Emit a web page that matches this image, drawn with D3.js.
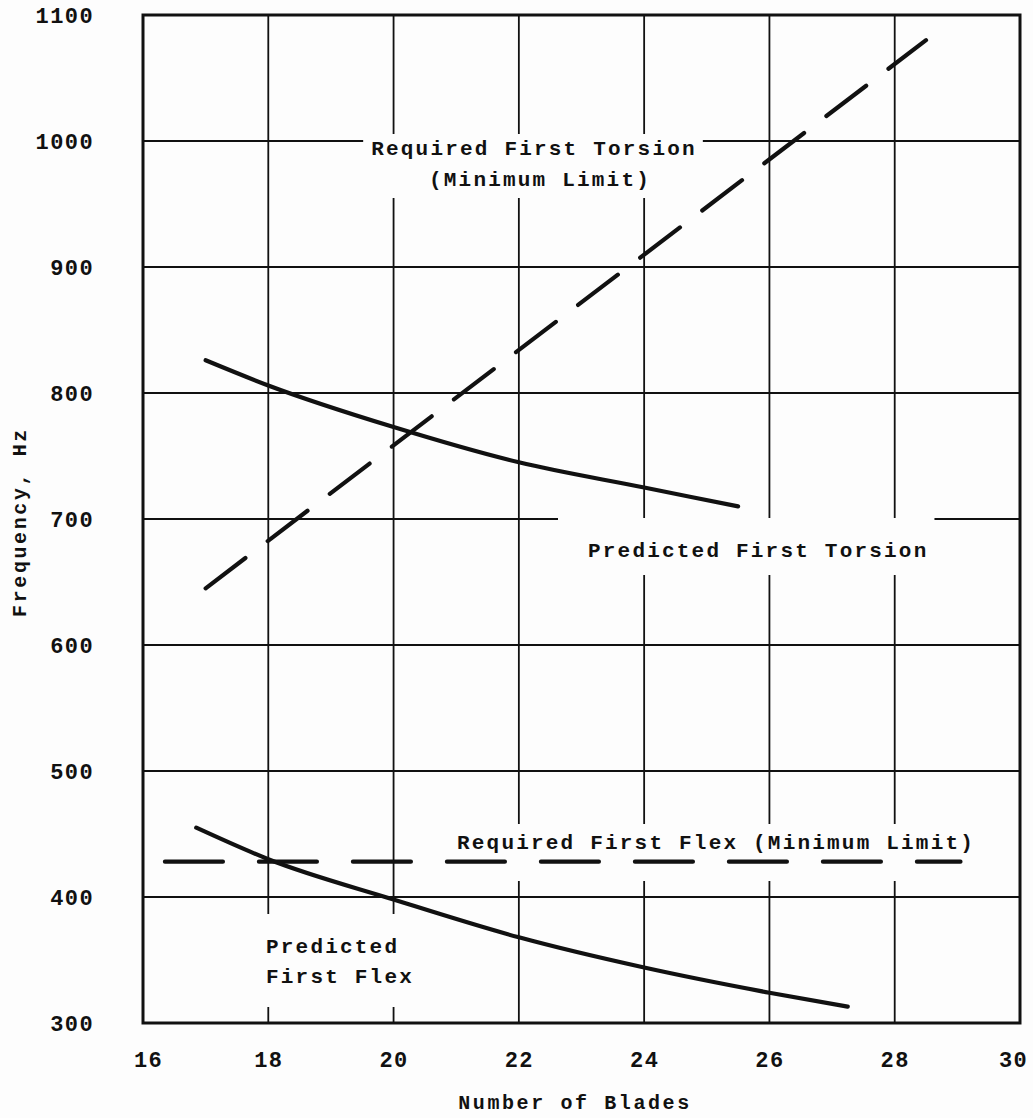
<!DOCTYPE html>
<html>
<head>
<meta charset="utf-8">
<script src="https://cdn.jsdelivr.net/npm/d3@7"></script>
<style>
  html, body { margin: 0; padding: 0; background: #fdfdfd; }
  svg { display: block; }
  .lbl { font-family: "Liberation Mono", "DejaVu Sans Mono", monospace; font-weight: bold; fill: #111; }
</style>
</head>
<body>
<div id="chart"></div>
<script>
// ---- data -------------------------------------------------------
const blades = [16, 18, 20, 22, 24, 26, 28, 30];          // x ticks
const freqTicks = [300, 400, 500, 600, 700, 800, 900, 1000, 1100];

// Required first torsion (minimum limit) — straight dashed line
const torsionReqX = [17, 28.5];
const torsionReqY = [645, 1080];

// Predicted first torsion — solid curve
const torsionPredX = [17, 18, 20, 22, 24, 25.5];
const torsionPredY = [826, 806, 773, 745, 725, 710];

// Required first flex (minimum limit) — horizontal dashed line
const flexReqX = [16.35, 29.05];
const flexReqY = [428, 428];

// Predicted first flex — solid curve
const flexPredX = [16.85, 18, 20, 22, 24, 26, 27.25];
const flexPredY = [455, 430, 398, 368, 344, 324, 313];

// ---- layout -----------------------------------------------------
const W = 1033, H = 1118;
const plot = { left: 143, right: 1020, top: 15, bottom: 1023 };
const INK = "#111";
const PAPER = "#fdfdfd";

const svg = d3.select("#chart").append("svg")
    .attr("width", W).attr("height", H);

const x = d3.scaleLinear().domain([16, 30]).range([plot.left, plot.right]);
const y = d3.scaleLinear().domain([300, 1100]).range([plot.bottom, plot.top]);

const zip = (xs, ys) => xs.map((v, i) => [v, ys[i]]);

// ---- grid -------------------------------------------------------
const grid = svg.append("g").attr("stroke", INK).attr("stroke-width", 1.8);
grid.selectAll("line.v").data(blades.slice(1, -1)).join("line")
    .attr("x1", d => x(d)).attr("x2", d => x(d))
    .attr("y1", plot.top).attr("y2", plot.bottom);
grid.selectAll("line.h").data(freqTicks.slice(1, -1)).join("line")
    .attr("y1", d => y(d)).attr("y2", d => y(d))
    .attr("x1", plot.left).attr("x2", plot.right);

// ---- label blocks (paper shows the grid broken behind lettering) --
const labels = svg.append("g");
function label(lines, xs, ys, anchor, pad) {
    const g = labels.append("g");
    const rect = g.append("rect").attr("fill", PAPER);
    lines.forEach((t, i) => {
        g.append("text").attr("class", "lbl")
            .attr("x", xs[i]).attr("y", ys[i])
            .attr("text-anchor", anchor)
            .attr("font-size", 21).attr("letter-spacing", 2.2)
            .text(t);
    });
    const b = g.node().getBBox();
    rect.attr("x", b.x - pad[3]).attr("y", b.y - pad[0])
        .attr("width", b.width + pad[1] + pad[3])
        .attr("height", b.height + pad[0] + pad[2]);
}

label(["Required First Torsion", "(Minimum Limit)"], [534, 540], [155, 186], "middle", [4, 6, 6, 8]);
label(["Predicted First Torsion"], [588], [557], "start", [22, 6, 12, 30]);
label(["Required First Flex (Minimum Limit)"], [457], [849], "start", [8, 6, 26, 6]);
label(["Predicted", "First Flex"], [266, 266], [953, 983], "start", [22, 8, 18, 12]);

// ---- axes frame -------------------------------------------------
svg.append("rect")
    .attr("x", plot.left).attr("y", plot.top)
    .attr("width", plot.right - plot.left).attr("height", plot.bottom - plot.top)
    .attr("fill", "none").attr("stroke", INK).attr("stroke-width", 3);

// ---- series -----------------------------------------------------
const line = d3.line().x(d => x(d[0])).y(d => y(d[1]));
const smooth = d3.line().x(d => x(d[0])).y(d => y(d[1])).curve(d3.curveMonotoneX);

const series = svg.append("g").attr("fill", "none").attr("stroke", INK)
    .attr("stroke-width", 4.2).attr("stroke-linecap", "round");

series.append("path").attr("d", line(zip(torsionReqX, torsionReqY)))
    .attr("stroke-dasharray", "50 28");
series.append("path").attr("d", smooth(zip(torsionPredX, torsionPredY)));
series.append("path").attr("d", line(zip(flexReqX, flexReqY)))
    .attr("stroke-dasharray", "58 36");
series.append("path").attr("d", smooth(zip(flexPredX, flexPredY)));

// ---- tick labels ------------------------------------------------
const tickFont = g => g.selectAll("text")
    .attr("class", "lbl").attr("font-size", 22).attr("letter-spacing", 1.4).attr("fill", INK);

svg.append("g")
    .attr("transform", `translate(${plot.left - 49},0)`)
    .call(d3.axisLeft(y).tickValues(freqTicks).tickFormat(d3.format("d")).tickSize(0).tickPadding(0))
    .call(g => g.select(".domain").remove())
    .call(tickFont);

svg.append("g")
    .attr("transform", `translate(0,${plot.bottom + 28})`)
    .call(d3.axisBottom(x).tickValues(blades).tickFormat(d3.format("d")).tickSize(0).tickPadding(0))
    .call(g => g.select(".domain").remove())
    .call(tickFont)
    .call(g => g.selectAll(".tick text").attr("dx", d => d === 30 ? -7 : (d === 16 ? 5 : 0)));

// ---- axis titles ------------------------------------------------
svg.append("text").attr("class", "lbl")
    .attr("transform", "translate(26,522) rotate(-90)")
    .attr("text-anchor", "middle").attr("font-size", 20).attr("letter-spacing", 2.6)
    .text("Frequency, Hz");

svg.append("text").attr("class", "lbl")
    .attr("x", 575).attr("y", 1109)
    .attr("text-anchor", "middle").attr("font-size", 20).attr("letter-spacing", 2.6)
    .text("Number of Blades");
</script>
</body>
</html>
